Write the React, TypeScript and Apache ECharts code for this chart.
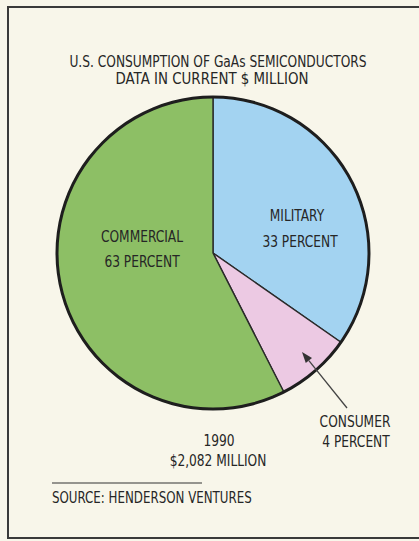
import React, { useEffect, useRef } from "react";
import * as echarts from "echarts";

const categories = ["MILITARY", "CONSUMER", "COMMERCIAL"];
// slice sizes as drawn in the picture (measured angles converted to share)
const drawnShares = [34.7, 7.8, 57.5];
const labelPercents = [33, 4, 63];
const sliceColors = ["#a3d3f1", "#ecc9e3", "#8dbf65"];
const titleLines = ["U.S. CONSUMPTION OF GaAs SEMICONDUCTORS", "DATA IN CURRENT $ MILLION"];
const yearLabel = "1990";
const totalLabel = "$2,082 MILLION";
const sourceLabel = "SOURCE: HENDERSON VENTURES";

const FONT = "'Liberation Sans Narrow', 'DejaVu Sans Condensed', 'Roboto', sans-serif";
const INK = "#262626";
const SX = 0.85;

function txt(text: string, x: number, y: number, align: string = "center", size = 16, sx = SX) {
  return {
    type: "text",
    x,
    y,
    z: 100,
    scaleX: sx,
    silent: true,
    style: {
      text,
      fill: INK,
      font: `${size}px ${FONT}`,
      textAlign: align,
      textVerticalAlign: "middle",
    },
  };
}

function arrow(x1: number, y1: number, x2: number, y2: number) {
  const dx = x2 - x1, dy = y2 - y1;
  const len = Math.sqrt(dx * dx + dy * dy);
  const ux = dx / len, uy = dy / len;
  const hl = 11, hw = 4;
  const bx = x2 - ux * hl, by = y2 - uy * hl;
  const px = -uy, py = ux;
  return [
    { type: "line", z: 100, silent: true, shape: { x1, y1, x2: bx, y2: by }, style: { stroke: "#444", lineWidth: 1.3 } },
    {
      type: "polygon",
      z: 100,
      silent: true,
      shape: { points: [[x2, y2], [bx + px * hw, by + py * hw], [bx - px * hw, by - py * hw]] },
      style: { fill: "#333" },
    },
  ];
}

export default function App() {
  const ref = useRef<HTMLDivElement>(null);
  useEffect(() => {
    if (!ref.current) return;
    const chart = echarts.init(ref.current, null, { renderer: "svg" });
    const data = categories.map((c, i) => ({
      name: c,
      value: drawnShares[i],
      itemStyle: { color: sliceColors[i] },
    }));
    chart.setOption({
      animation: false,
      backgroundColor: "#f8f6ea",
      series: [
        {
          type: "pie",
          center: [213, 253],
          radius: 156,
          startAngle: 90,
          clockwise: true,
          silent: true,
          z: 2,
          label: { show: false },
          labelLine: { show: false },
          itemStyle: { borderColor: "#2a2a2a", borderWidth: 1.4 },
          data,
        },
        {
          type: "pie",
          center: [213, 253],
          radius: [154.5, 157.5],
          silent: true,
          z: 3,
          label: { show: false },
          labelLine: { show: false },
          itemStyle: { color: "#1e1e1e", borderWidth: 0 },
          data: [{ name: "outline", value: 1 }],
        },
      ],
      graphic: {
        elements: [
          {
            type: "rect",
            silent: true,
            z: 100,
            shape: { x: 8, y: 7, width: 430, height: 531 },
            style: { fill: "none", stroke: "#3a3a3a", lineWidth: 2 },
          },
          txt(titleLines[0], 218, 61),
          txt(titleLines[1], 212, 79, "center", 16, 0.93),
          txt(categories[0], 297, 215),
          txt(`${labelPercents[0]} PERCENT`, 300, 241),
          txt(categories[2], 142, 236),
          txt(`${labelPercents[2]} PERCENT`, 142, 261),
          txt(categories[1], 355, 421),
          txt(`${labelPercents[1]} PERCENT`, 356, 441),
          txt(yearLabel, 219, 440),
          txt(totalLabel, 218, 460),
          {
            type: "line",
            silent: true,
            z: 100,
            shape: { x1: 52, y1: 483, x2: 202, y2: 483 },
            style: { stroke: "#333", lineWidth: 1.2 },
          },
          txt(sourceLabel, 52, 498, "left", 15.5),
          ...arrow(347, 408, 302, 352),
        ],
      },
    });
    return () => chart.dispose();
  }, []);
  return (
    <div
      ref={ref}
      style={{ position: "fixed", left: 0, top: 0, width: 419, height: 541, background: "#f8f6ea" }}
    />
  );
}
